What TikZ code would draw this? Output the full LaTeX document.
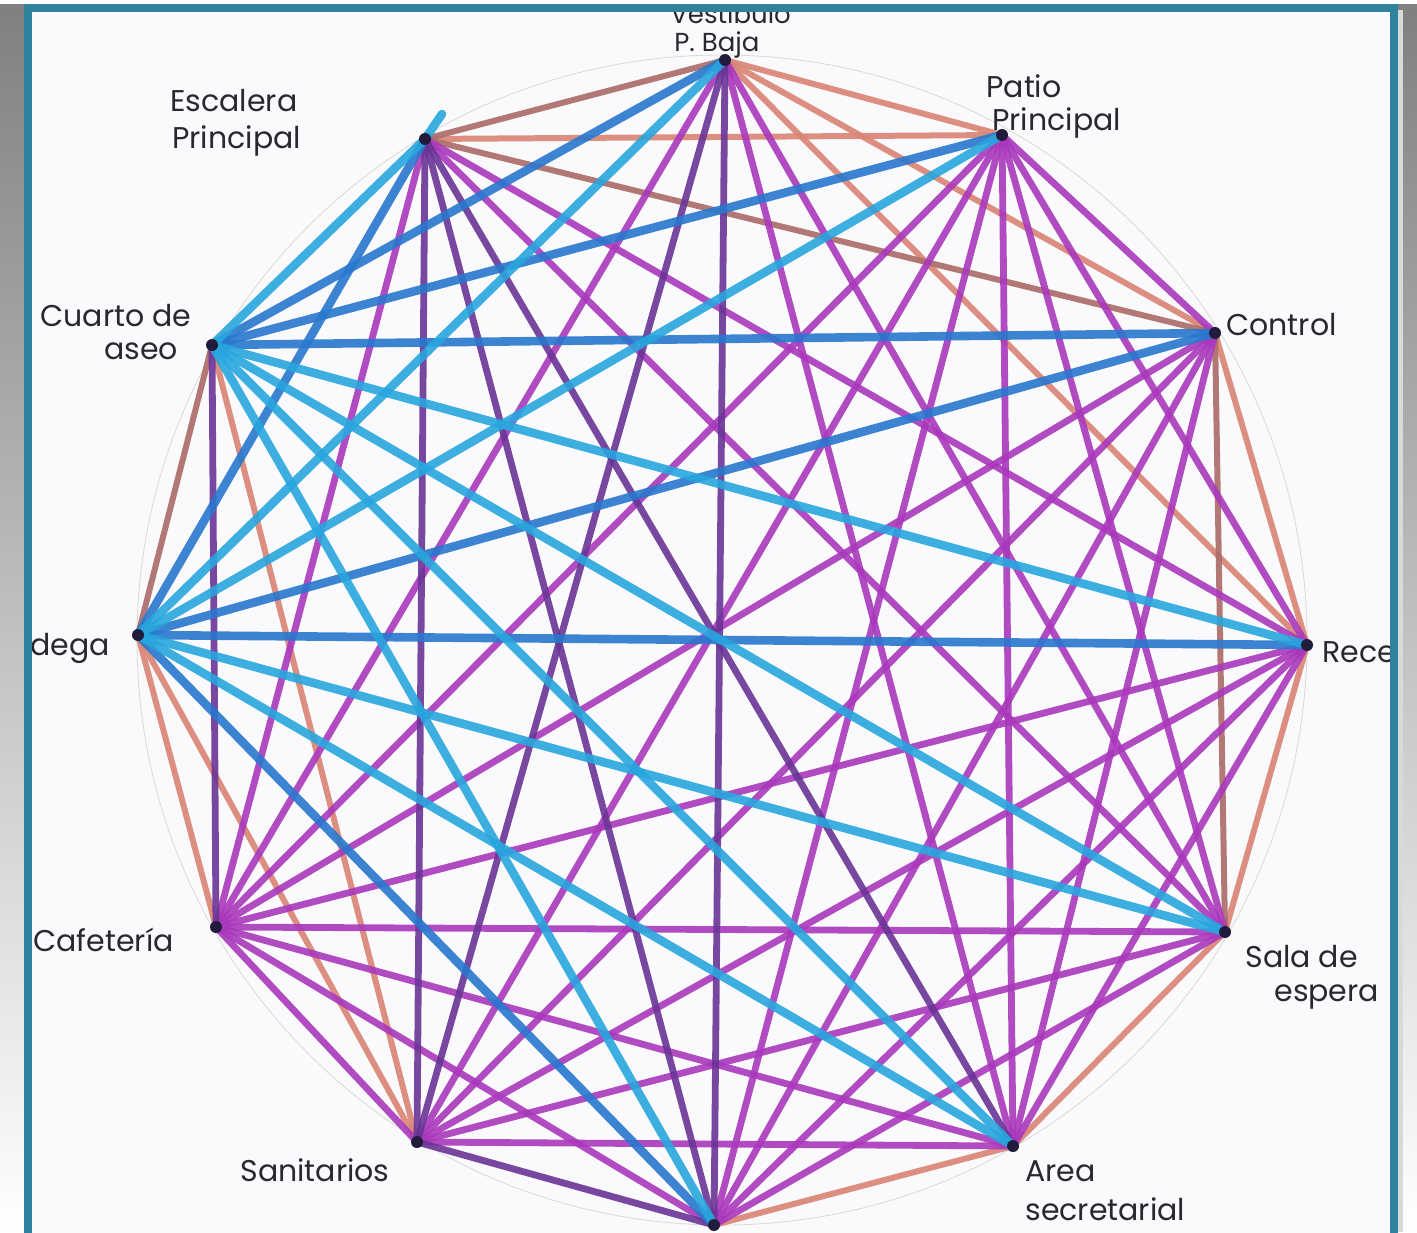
\documentclass[tikz,border=0pt]{standalone}
\usepackage{fontspec}
\newfontfamily\hand{Poppins}
\definecolor{frameteal}{RGB}{46,130,156}
\definecolor{org}{RGB}{218,134,118}
\definecolor{brn}{RGB}{172,110,106}
\definecolor{blu}{RGB}{40,120,206}
\definecolor{cya}{RGB}{40,166,222}
\definecolor{mag}{RGB}{170,56,188}
\definecolor{dpu}{RGB}{106,52,150}
\definecolor{ink}{RGB}{40,40,46}
\definecolor{dotc}{RGB}{34,28,60}
\definecolor{paper}{RGB}{250,250,252}
\definecolor{shade}{RGB}{245,246,248}
\tikzset{
  eO/.style={draw=org, line width=3pt, opacity=0.92},
  eB/.style={draw=brn, line width=3pt, opacity=0.92},
  eBl/.style={draw=blu, line width=4.3pt, opacity=0.9},
  eCy/.style={draw=cya, line width=4.3pt, opacity=0.9},
  eM/.style={draw=mag, line width=3.4pt, opacity=0.9},
  eD/.style={draw=dpu, line width=3.4pt, opacity=0.9},
  vdot/.style={circle, fill=dotc, inner sep=0pt, minimum size=6pt},
  lab/.style={font=\hand\fontsize{15}{16}\selectfont, text=ink, inner sep=0pt, anchor=west},
  slab/.style={font=\hand\fontsize{13}{14}\selectfont, text=ink, inner sep=0pt, anchor=west}
}
\begin{document}
\begin{tikzpicture}[x=0.5pt,y=-0.5pt]
\useasboundingbox (0,0) rectangle (1417,1232);
\fill[shade] (0,0) rectangle (1417,1232);
\fill[paper] (28,8) rectangle (1394,1240);
% vertices
\coordinate (v0) at (725,60);
\coordinate (v1) at (1002,135);
\coordinate (v2) at (1215,333);
\coordinate (v3) at (1307,645);
\coordinate (v4) at (1225,932);
\coordinate (v5) at (1013,1146);
\coordinate (v6) at (714,1225);
\coordinate (v7) at (417,1142);
\coordinate (v8) at (216,927);
\coordinate (v9) at (138,635);
\coordinate (v10) at (212,345);
\coordinate (v11) at (425,139);
\coordinate (stub) at (442,114);
\coordinate (ctr) at (722,640);
% faint pencil circle
\draw[gray!30, line width=0.4pt] (ctr) circle[radius=585];
% orange edges
\foreach \a/\b in {0/1,0/2,0/3,1/11,2/3,3/4,4/5,5/6,9/7,9/8,10/7}
  \draw[eO] (v\a) -- (v\b);
\foreach \a/\b in {0/11,2/11,2/4,9/10}
  \draw[eB] (v\a) -- (v\b);
% purple edges
\foreach \a/\b in {0/4,0/5,0/8,1/2,1/3,1/4,1/5,1/6,1/7,1/8,2/5,2/6,2/7,2/8,3/5,3/6,3/7,3/8,3/11,4/6,4/7,4/8,4/11,5/7,5/8,6/8,7/8,8/11}
  \draw[eM] (v\a) -- (v\b);
\foreach \a/\b in {0/6,0/7,5/11,6/7,6/11,7/11,8/10}
  \draw[eD] (v\a) -- (v\b);
% blue edges
\foreach \a/\b in {0/10,1/10,2/9,2/10,3/9,6/9,9/11}
  \draw[eBl] (v\a) -- (v\b);
\foreach \a/\b in {0/9,1/9,3/10,4/9,4/10,5/9,5/10,6/10,10/11}
  \draw[eCy] (v\a) -- (v\b);
\draw[eCy, line cap=round] (v11) -- (stub);
% vertex dots
\foreach \i in {0,...,11} \node[vdot] (d\i) at (v\i) {};
% labels
\node[slab] (lves1) at (670,14) {Vestibulo};
\node[slab] (lves2) at (674,45) {P. Baja};
\node[lab] (lesc1) at (170,101) {Escalera};
\node[lab] (lesc2) at (172,141) {Principal};
\node[lab] (lpat1) at (986,86) {Patio};
\node[lab] (lpat2) at (992,123) {Principal};
\node[lab] (lcon) at (1226,325) {Control};
\node[lab] (lrec) at (1322,652) {Rece};
\node[lab] (lsal1) at (1245,957) {Sala de};
\node[lab] (lsal2) at (1274,997) {espera};
\node[lab] (lare1) at (1025,1171) {Area};
\node[lab] (lare2) at (1025,1209) {secretarial};
\node[lab] (lsan) at (240,1170) {Sanitarios};
\node[lab] (lcaf) at (33,940) {Cafetería};
\node[lab] (lbod) at (30,648) {dega};
\node[lab] (lcua1) at (40,316) {Cuarto de};
\node[lab] (lcua2) at (104,351) {aseo};
% frame
\fill[shade] (0,0) rectangle (24,1232);
\fill[shade] (1398,0) rectangle (1417,1232);
\fill[white] (0,0) rectangle (1417,4);
\fill[gray!30] (1398,10) rectangle (1403,1232);
\draw[frameteal, line width=4.3pt] (28,8) rectangle (1394,1250);
\end{tikzpicture}
\end{document}
